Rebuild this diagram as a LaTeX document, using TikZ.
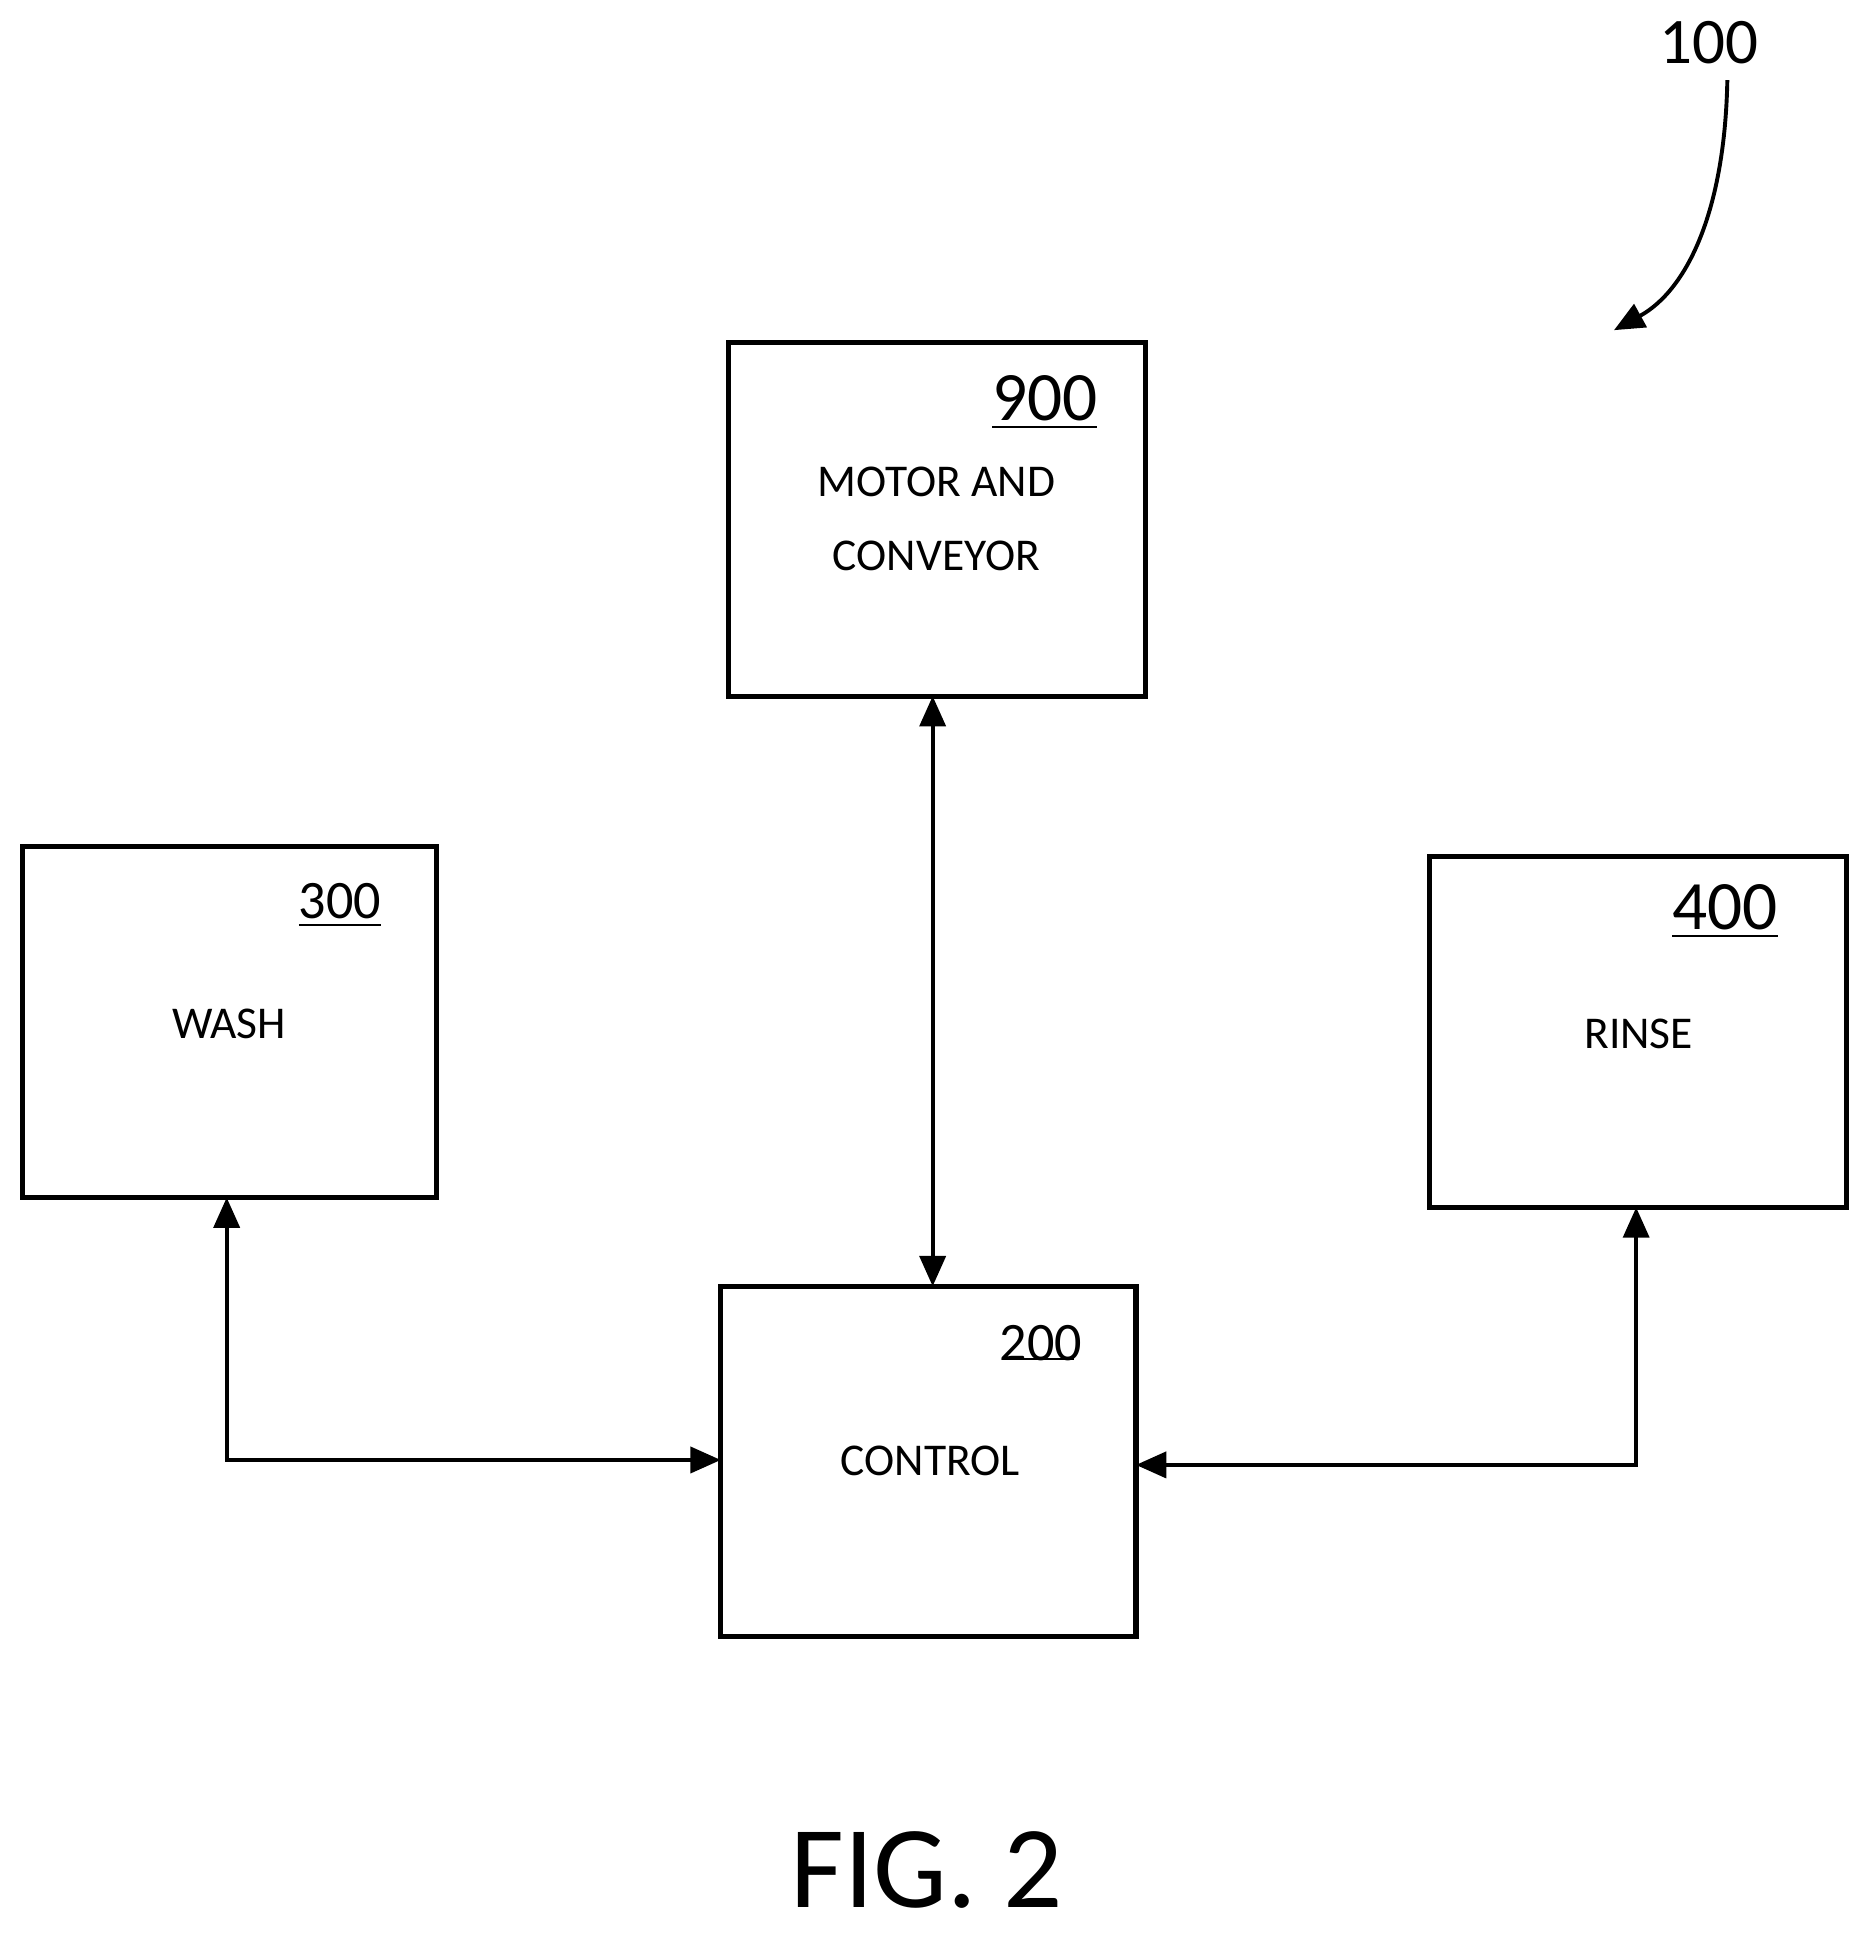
\documentclass[tikz,border=0pt]{standalone}
\usepackage{fontspec}
\setmainfont{Carlito}
\usetikzlibrary{arrows.meta}
\begin{document}
\begin{tikzpicture}[x=0.01cm,y=-0.01cm,
  box/.style={draw,line width=1.2pt},
  lbl/.style={font=\fontsize{10.5}{13}\selectfont,align=center},
  conn/.style={line width=0.9pt,{Triangle[length=7pt,width=6pt]}-{Triangle[length=7pt,width=6pt]}},
  conn1/.style={line width=0.9pt,-{Triangle[length=7pt,width=6pt]}}]
\useasboundingbox (0,0) rectangle (1522,1573);
\draw[box] (591,278) rectangle (930,565) coordinate (b9);
\node[box,draw=none,minimum size=0pt] (n900) at (760,421) {};
\draw[box] (18,687) rectangle (354,972);
\draw[box] (1160,695) rectangle (1499,980);
\draw[box] (585,1044) rectangle (922,1328);
\coordinate (top200) at (757,1044);
\coordinate (bot900) at (757,565);
\coordinate (wbot) at (184,972);
\coordinate (wcorner) at (184,1185);
\coordinate (cleft) at (585,1185);
\coordinate (rbot) at (1328,980);
\coordinate (rcorner) at (1328,1189);
\coordinate (cright) at (922,1189);
\draw[conn] (bot900) -- (top200);
\draw[conn] (wbot) -- (wcorner) -- (cleft);
\draw[conn] (rbot) -- (rcorner) -- (cright);
\node[font=\fontsize{16}{19}\selectfont] (l900) at (848,327) {\underline{900}};
\node[lbl] (t900) at (760,421) {MOTOR AND\\[4pt]CONVEYOR};
\node[font=\fontsize{12.5}{15}\selectfont] (l300) at (276,735) {\underline{300}};
\node[lbl] (t300) at (186,831) {WASH};
\node[font=\fontsize{16}{19}\selectfont] (l400) at (1400,740) {\underline{400}};
\node[lbl] (t400) at (1330,839) {RINSE};
\node[font=\fontsize{12.5}{15}\selectfont] (l200) at (845,1090) {200};
\draw[line width=0.6pt] (819,1103) -- (872,1103);
\node[lbl] (t200) at (755,1186) {CONTROL};
\node[font=\fontsize{15}{18}\selectfont] (l100) at (1387,35) {100};
\coordinate (a1) at (1310,268);
\draw[conn1] (1402,65) .. controls (1400,170) and (1370,235) .. (a1);
\node[font=\fontsize{27}{32}\selectfont] (fig) at (752,1518) {FIG. 2};
\end{tikzpicture}
\end{document}
